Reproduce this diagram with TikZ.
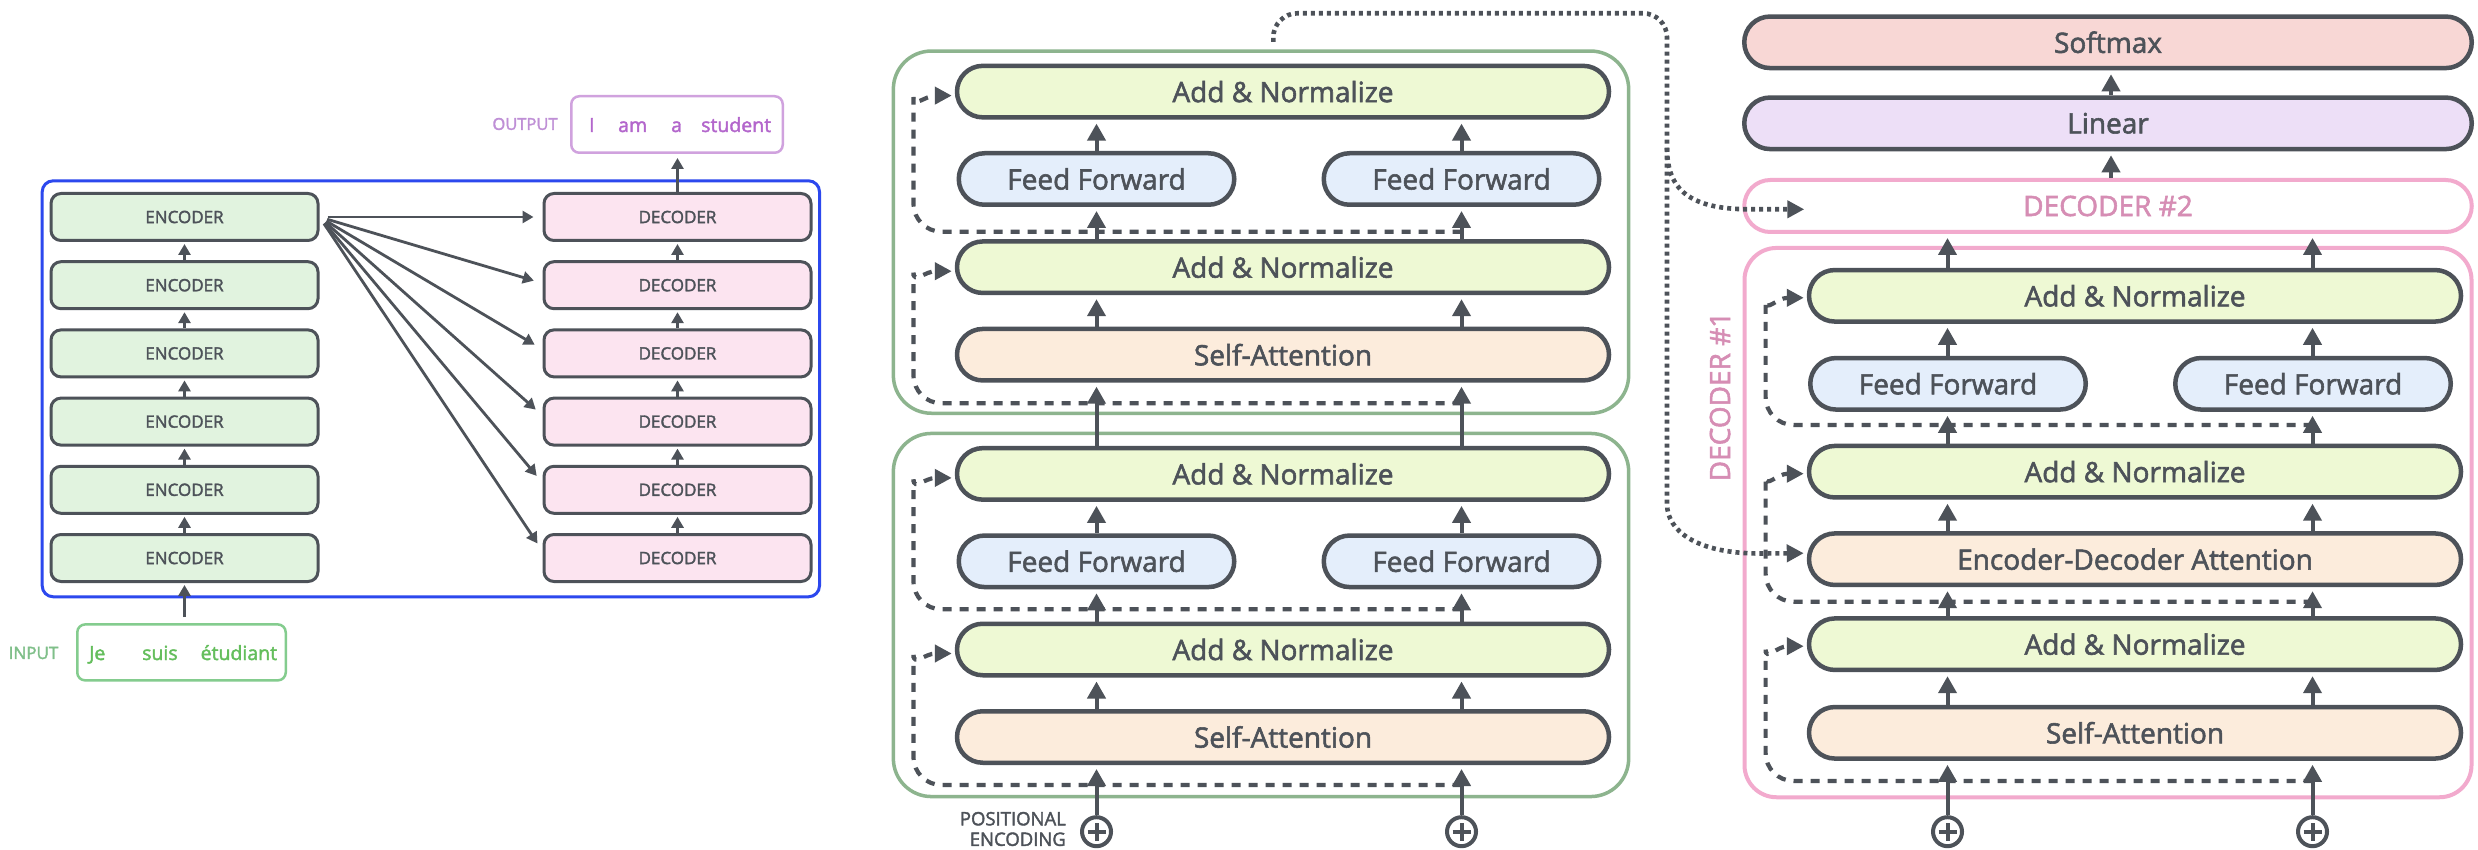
\documentclass[tikz,border=0pt]{standalone}
\usepackage{fontspec}
\setmainfont{Open Sans}[FakeBold=2]
\usetikzlibrary{arrows.meta}

\definecolor{ink}{HTML}{4D5259}
\definecolor{encfill}{HTML}{E1F3DF}
\definecolor{decfill}{HTML}{FCE4F0}
\definecolor{bluebox}{HTML}{2C48EE}
\definecolor{ingreen}{HTML}{64BE5C}
\definecolor{inlabel}{HTML}{7FBF89}
\definecolor{inborder}{HTML}{84CC8E}
\definecolor{outpurple}{HTML}{B366CC}
\definecolor{outlabel}{HTML}{BF8FD6}
\definecolor{outborder}{HTML}{D0A2DE}
\definecolor{contgreen}{HTML}{8DB48E}
\definecolor{contpink}{HTML}{F2AACD}
\definecolor{pinktext}{HTML}{D68DB4}
\definecolor{anfill}{HTML}{EEF9D4}
\definecolor{fffill}{HTML}{E4EEFB}
\definecolor{safill}{HTML}{FCECDC}
\definecolor{smfill}{HTML}{F8D7D5}
\definecolor{linfill}{HTML}{EDDFF7}

\tikzset{
  pill/.style={draw=ink, line width=4.5pt, rounded corners=25.75pt, minimum height=51.5pt,
    inner sep=0pt, text=ink, font=\fontsize{28}{32}\selectfont},
  wide/.style={pill, minimum width=652pt},
  half/.style={pill, minimum width=275.5pt, fill=fffill},
  an/.style={wide, fill=anfill},
  att/.style={wide, fill=safill},
  headbox/.style={pill, minimum width=727.5pt},
  smallbox/.style={draw=ink, line width=3pt, rounded corners=10pt, minimum width=267pt,
    minimum height=47pt, inner sep=0pt, text=ink, font=\fontsize{17}{19}\selectfont},
  encbox/.style={smallbox, fill=encfill},
  decbox/.style={smallbox, fill=decfill},
  flow/.style={draw=ink, line width=4pt, -{Triangle[length=17pt,width=18pt]}, shorten >=4pt},
  thinflow/.style={draw=ink, line width=2.8pt, -{Triangle[length=11pt,width=12pt]}},
  resid/.style={draw=ink, line width=4.2pt, dash pattern=on 9pt off 8pt,
    -{Triangle[length=17pt,width=17pt]}, shorten >=3pt},
  dotflow/.style={draw=ink, line width=4.6pt, dash pattern=on 4pt off 4pt,
    -{Triangle[length=17pt,width=17pt]}, shorten >=3pt},
  plusnode/.style={circle, draw=ink, line width=4pt, minimum size=29pt, inner sep=0pt, fill=white},
  wordtext/.style={anchor=base west, inner sep=0pt, font=\fontsize{19.5}{22}\selectfont},
  tag/.style={inner sep=0pt, font=\fontsize{17}{19}\selectfont},
}

\begin{document}
\begin{tikzpicture}[x=1pt, y=-1pt]
\fill[white] (0,0) rectangle (2478,850);
\useasboundingbox (0,0) rectangle (2478,850);

% ---------------- encoder / decoder stacks ----------------
\node[draw=bluebox, line width=3pt, rounded corners=11pt, minimum width=777.3pt,
  minimum height=416pt, inner sep=0pt] (stack) at (430.85,388.8) {};

\foreach \i/\y in {1/217,2/285.2,3/353.4,4/421.6,5/489.8,6/558} {
  \node[encbox] (e\i) at (184.5,\y) {ENCODER};
  \node[decbox] (d\i) at (677.5,\y) {DECODER};
}
\foreach \i/\j in {2/1,3/2,4/3,5/4,6/5} {
  \draw[thinflow, shorten >=2pt] (e\i.north) -- (e\j.south);
  \draw[thinflow, shorten >=2pt] (d\i.north) -- (d\j.south);
}
\foreach \i/\s in {1/0,2/2,3/4,4/6,5/7,6/7} {
  \draw[thinflow, shorten <=8pt, shorten >=9pt] (e1.east) -- ([yshift=\s pt]d\i.west);
}

% input sentence
\node[draw=inborder, line width=2.5pt, rounded corners=8pt, minimum width=208.5pt,
  minimum height=56pt, inner sep=0pt] (inbox) at (181.5,652.4) {};
\node[wordtext, text=ingreen] (inw1) at (89,660) {Je};
\node[wordtext, text=ingreen] (inw2) at (142,660) {suis};
\node[wordtext, text=ingreen] (inw3) at (200.5,660) {étudiant};
\node[tag, text=inlabel] (intag) at (33.5,653) {INPUT};
\draw[thinflow, shorten <=6pt, shorten >=2pt] (e6.south |- inbox.north) -- (e6.south);

% output sentence
\node[draw=outborder, line width=2.5pt, rounded corners=8pt, minimum width=211.5pt,
  minimum height=56.5pt, inner sep=0pt] (outbox) at (677,124.5) {};
\node[wordtext, text=outpurple] (outw1) at (589,132) {I};
\node[wordtext, text=outpurple] (outw2) at (618,132) {am};
\node[wordtext, text=outpurple] (outw3) at (671,132) {a};
\node[wordtext, text=outpurple] (outw4) at (701,132) {student};
\node[tag, text=outlabel, font=\fontsize{16.5}{19}\selectfont] (outtag) at (525,124) {OUTPUT};
\draw[thinflow, shorten >=4pt] (d1.north) -- (d1.north |- outbox.south);

% ---------------- two encoders in detail ----------------
\node[draw=contgreen, line width=3.5pt, rounded corners=38pt, minimum width=735.3pt,
  minimum height=362.2pt, inner sep=0pt] (encB) at (1261,232.15) {};
\node[draw=contgreen, line width=3.5pt, rounded corners=38pt, minimum width=735.3pt,
  minimum height=363.1pt, inner sep=0pt] (encA) at (1261,615) {};

\node[an] (uAN2) at (1283,91.6) {Add \& Normalize};
\node[half] (uFFa) at (1096.5,179) {Feed Forward};
\node[half] (uFFb) at (1461.5,179) {Feed Forward};
\node[an] (uAN1) at (1283,267.2) {Add \& Normalize};
\node[att] (uSA) at (1283,354.7) {Self-Attention};

\node[an] (lAN2) at (1283,473.9) {Add \& Normalize};
\node[half] (lFFa) at (1096.5,561.3) {Feed Forward};
\node[half] (lFFb) at (1461.5,561.3) {Feed Forward};
\node[an] (lAN1) at (1283,649.5) {Add \& Normalize};
\node[att] (lSA) at (1283,737) {Self-Attention};

\node[plusnode] (pl1) at (1096.5,831.7) {};
\node[plusnode] (pl2) at (1461.5,831.7) {};
\node[anchor=east, align=right, text=ink, inner sep=0pt, font=\fontsize{18.5}{20.5}\selectfont]
  (posenc) at (1066,829) {POSITIONAL\\ENCODING};

% residual connections
\coordinate (ur1) at (1461.5,403.3);
\coordinate (ur2) at (1461.5,231.7);
\coordinate (lr1) at (1461.5,785);
\coordinate (lr2) at (1461.5,609.3);
\draw[resid] (ur1) [rounded corners=28pt] -- (913.5,403.3) -- (913.5,300.7) [sharp corners]
  .. controls (913.5,284) and (925,271.2) .. ([yshift=-4pt]uAN1.west);
\draw[resid] (ur2) [rounded corners=28pt] -- (913.5,231.7) -- (913.5,125.1) [sharp corners]
  .. controls (913.5,108.4) and (925,95.6) .. ([yshift=-4pt]uAN2.west);
\draw[resid] (lr1) [rounded corners=28pt] -- (913.5,785) -- (913.5,683) [sharp corners]
  .. controls (913.5,666.3) and (925,653.5) .. ([yshift=-4pt]lAN1.west);
\draw[resid] (lr2) [rounded corners=28pt] -- (913.5,609.3) -- (913.5,507.4) [sharp corners]
  .. controls (913.5,490.7) and (925,477.9) .. ([yshift=-4pt]lAN2.west);

\foreach \c/\fu/\fl in {pl1/uFFa/lFFa, pl2/uFFb/lFFb} {
  \draw[flow] (\c) -- (lSA.south -| \c);
  \draw[flow] (lSA.north -| \c) -- (lAN1.south -| \c);
  \draw[flow] (lAN1.north -| \c) -- (\fl.south -| \c);
  \draw[flow] (\fl.north -| \c) -- (lAN2.south -| \c);
  \draw[flow] (lAN2.north -| \c) -- (uSA.south -| \c);
  \draw[flow] (uSA.north -| \c) -- (uAN1.south -| \c);
  \draw[flow] (uAN1.north -| \c) -- (\fu.south -| \c);
  \draw[flow] (\fu.north -| \c) -- (uAN2.south -| \c);
}

% ---------------- decoder in detail ----------------
\node[headbox, fill=smfill] (rSoft) at (2108,42.3) {Softmax};
\node[headbox, fill=linfill] (rLin) at (2108,123.3) {Linear};
\node[headbox, draw=contpink, line width=4pt, fill=white, text=pinktext, minimum height=52pt,
  rounded corners=26pt] (rD2) at (2108,206) {DECODER \#2};
\node[draw=contpink, line width=4pt, rounded corners=32pt, minimum width=727pt,
  minimum height=549.3pt, inner sep=0pt] (decA) at (2108,522.6) {};
\node[rotate=90, text=pinktext, inner sep=0pt, font=\fontsize{28}{32}\selectfont]
  (decAtag) at (1720,396.5) {DECODER \#1};

\node[an] (rAN3) at (2135,295.8) {Add \& Normalize};
\node[half] (rFFa) at (1948,383.8) {Feed Forward};
\node[half] (rFFb) at (2313,383.8) {Feed Forward};
\node[an] (rAN2) at (2135,471.7) {Add \& Normalize};
\node[att] (rEDA) at (2135,559.2) {Encoder-Decoder Attention};
\node[an] (rAN1) at (2135,644.2) {Add \& Normalize};
\node[att] (rSA) at (2135,732.8) {Self-Attention};

\node[plusnode] (pr1) at (1947.5,831.7) {};
\node[plusnode] (pr2) at (2312.5,831.7) {};
\coordinate (rC) at (2111,0);

\coordinate (rr1) at (2312.5,425);
\coordinate (rr2) at (2312.5,601.7);
\coordinate (rr3) at (2312.5,781);
\draw[resid] (rr1) [rounded corners=28pt] -- (1765.6,425) -- (1765.6,329.3) [sharp corners]
  .. controls (1765.6,312.6) and (1777,297.8) .. ([yshift=-2pt]rAN3.west);
\draw[resid] (rr2) [rounded corners=28pt] -- (1765.6,601.7) -- (1765.6,505.2) [sharp corners]
  .. controls (1765.6,488.5) and (1777,473.7) .. ([yshift=-2pt]rAN2.west);
\draw[resid] (rr3) [rounded corners=28pt] -- (1765.6,781) -- (1765.6,677.7) [sharp corners]
  .. controls (1765.6,661) and (1777,646.2) .. ([yshift=-2pt]rAN1.west);

\foreach \c/\f in {pr1/rFFa, pr2/rFFb} {
  \draw[flow] (\c) -- (rSA.south -| \c);
  \draw[flow] (rSA.north -| \c) -- (rAN1.south -| \c);
  \draw[flow] (rAN1.north -| \c) -- (rEDA.south -| \c);
  \draw[flow] (rEDA.north -| \c) -- (rAN2.south -| \c);
  \draw[flow] (rAN2.north -| \c) -- (\f.south -| \c);
  \draw[flow] (\f.north -| \c) -- (rAN3.south -| \c);
  \draw[flow] (rAN3.north -| \c) -- (rD2.south -| \c);
}
\draw[flow] (rD2.north -| rC) -- (rLin.south -| rC);
\draw[flow] (rLin.north -| rC) -- (rSoft.south -| rC);

% plus signs
\foreach \p in {pl1,pl2,pr1,pr2} {
  \draw[ink, line width=4pt] ([xshift=-9pt]\p.center) -- ([xshift=9pt]\p.center)
    ([yshift=-9pt]\p.center) -- ([yshift=9pt]\p.center);
}

% encoder output fed to both decoders
\coordinate (dstart) at (1273.3,42);
\coordinate (dbranch) at (1667,148);
\draw[dotflow] (dstart) [rounded corners=24pt] -- (1273.3,13.3) -- (1667,13.3) -- (1667,480)
  [sharp corners] .. controls (1667,530) and (1695,553.5) .. (1760,553.5)
  -- ([yshift=6pt]rEDA.west);
\draw[dotflow] (dbranch) .. controls (1667,190) and (1690,209.3) .. (1750,209.3)
  -- ([xshift=65pt,yshift=-3.3pt]rD2.west);
\end{tikzpicture}
\end{document}
